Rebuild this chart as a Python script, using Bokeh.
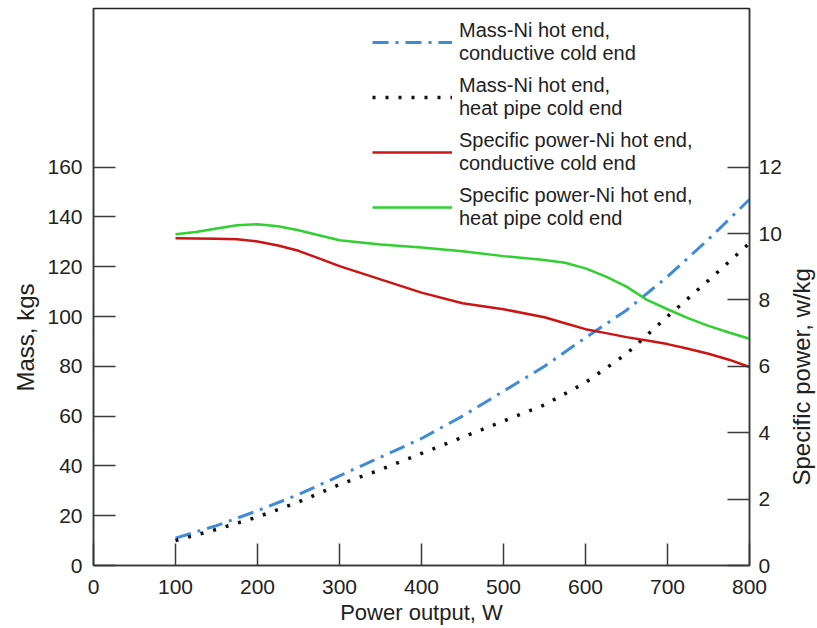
import math
from bokeh.plotting import figure
from bokeh.layouts import row
from bokeh.models import Range1d, LinearAxis, FixedTicker, Legend, LegendItem, Title
from bokeh.embed import file_html
from bokeh.resources import INLINE

# ---- data ----
power = [100, 150, 200, 250, 300, 350, 400, 450, 500, 550, 600, 650, 700, 750, 800]
mass_conductive = [11, 16, 22, 28.5, 36, 43.5, 51, 60, 70, 80, 91.5, 102.5, 116, 131, 147]
mass_heatpipe = [10, 14.5, 19.5, 25.5, 32.5, 38.5, 45, 51.5, 58, 64.5, 73.5, 85, 100, 114.5, 129.5]

sp_power = [100, 125, 150, 175, 200, 225, 250, 275, 300, 350, 400, 450, 500, 550,
            575, 600, 625, 650, 675, 700, 725, 750, 775, 800]
sp_conductive = [9.86, 9.85, 9.84, 9.83, 9.76, 9.64, 9.48, 9.25, 9.02, 8.62, 8.22, 7.9, 7.72, 7.48,
                 7.3, 7.12, 7.0, 6.88, 6.78, 6.67, 6.53, 6.38, 6.2, 5.98]
sp_heatpipe = [9.98, 10.05, 10.15, 10.25, 10.28, 10.22, 10.1, 9.95, 9.8, 9.67, 9.58, 9.47, 9.32, 9.2,
               9.12, 8.95, 8.7, 8.4, 8.0, 7.72, 7.45, 7.22, 7.02, 6.83]

x_ticks = [0, 100, 200, 300, 400, 500, 600, 700, 800]
mass_ticks = [0, 20, 40, 60, 80, 100, 120, 140, 160]
sp_ticks = [0, 2, 4, 6, 8, 10, 12]

labels = ["Mass-Ni hot end,\nconductive cold end",
          "Mass-Ni hot end,\nheat pipe cold end",
          "Specific power-Ni hot end,\nconductive cold end",
          "Specific power-Ni hot end,\nheat pipe cold end"]

FONT = "Liberation Sans"
TXT = "#222222"
AX = "#3a3a3a"

p = figure(width=785, height=628, output_backend="svg", toolbar_location=None,
           x_range=Range1d(0, 800), y_range=Range1d(0, 223.7),
           min_border_left=93, min_border_right=36, min_border_top=8, min_border_bottom=63)
p.extra_y_ranges = {"sp": Range1d(0, 16.78)}
p.grid.visible = False
p.outline_line_color = "#222222"
p.outline_line_width = 1.5
p.background_fill_color = "white"
p.border_fill_color = "white"

def style_axis(ax, standoff):
    ax.axis_line_color = AX
    ax.axis_line_width = 1.5
    ax.major_tick_line_color = AX
    ax.major_tick_line_width = 1.5
    ax.major_tick_in = 22
    ax.major_tick_out = 0
    ax.minor_tick_line_color = None
    ax.major_label_text_font = FONT
    ax.major_label_text_font_size = "21px"
    ax.major_label_text_color = TXT
    ax.major_label_standoff = standoff

xa = p.xaxis[0]
xa.ticker = FixedTicker(ticks=x_ticks)
style_axis(xa, 14)
xa.axis_label = "Power output, W"
xa.axis_label_text_font = FONT
xa.axis_label_text_font_size = "22px"
xa.axis_label_text_font_style = "normal"
xa.axis_label_text_color = TXT
xa.axis_label_standoff = 3

ya = p.yaxis[0]
ya.ticker = FixedTicker(ticks=mass_ticks)
style_axis(ya, 11)

ra = LinearAxis(y_range_name="sp", ticker=FixedTicker(ticks=sp_ticks))
style_axis(ra, 9)
p.add_layout(ra, "right")

r_blue = p.line(power, mass_conductive, line_color="#3d8bd9", line_width=3,
                line_dash="16 7 3 7")
r_black = p.line(power, mass_heatpipe, line_color="#111111", line_width=3.5,
                 line_dash="3 10")
r_red = p.line(sp_power, sp_conductive, y_range_name="sp", line_color="#cc1414", line_width=2.5)
r_green = p.line(sp_power, sp_heatpipe, y_range_name="sp", line_color="#2fd02f", line_width=2.5)

legend = Legend(items=[LegendItem(label=labels[0], renderers=[r_blue]),
                       LegendItem(label=labels[1], renderers=[r_black]),
                       LegendItem(label=labels[2], renderers=[r_red]),
                       LegendItem(label=labels[3], renderers=[r_green])],
                location=(279, 335))
legend.glyph_width = 80
legend.label_standoff = 7
legend.padding = 0
legend.margin = 0
legend.spacing = 9
legend.border_line_color = None
legend.background_fill_alpha = 0
legend.label_text_font = FONT
legend.label_text_font_size = "20px"
legend.label_text_color = TXT
legend.label_text_line_height = 1.15
p.add_layout(legend, "center")

p.add_layout(Title(text="Mass, kgs", align="left", offset=174, standoff=12,
                   text_font=FONT, text_font_size="24px", text_font_style="normal",
                   text_color=TXT), "left")

# narrow companion panel that carries the right-hand axis title (reads bottom-to-top)
p2 = figure(width=32, height=628, output_backend="svg", toolbar_location=None,
            x_axis_location=None, y_axis_location=None,
            min_border_left=27, min_border_right=0, min_border_top=8, min_border_bottom=63)
p2.grid.visible = False
p2.outline_line_color = None
p2.background_fill_color = "white"
p2.border_fill_color = "white"
p2.add_layout(Title(text="Specific power, w/kg", align="left", offset=80, standoff=0,
                    text_font=FONT, text_font_size="24px", text_font_style="normal",
                    text_color=TXT), "left")

layout = row(p, p2, spacing=0)
open("out.html", "w").write(file_html(layout, INLINE))
